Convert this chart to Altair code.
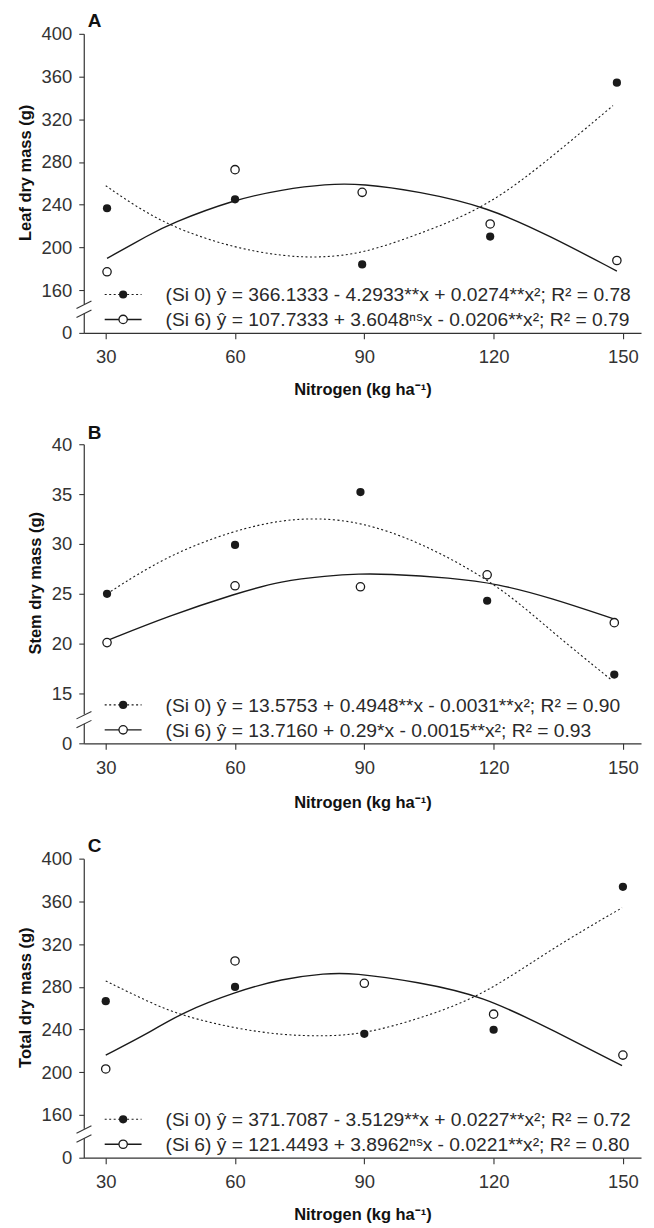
import altair as alt
import pandas as pd

FONT = "Liberation Sans, Arial, sans-serif"
INK = "#1a1a1a"

X_TICKS = [30, 60, 90, 120, 150]
X_TITLE = "Nitrogen (kg ha⁻¹)"

# ---------------- Panel A: leaf dry mass ----------------
A_x = [30.3, 60, 89.5, 119.2, 148.6]
A_si0 = [236.7, 245.1, 184.1, 210.2, 354.3]
A_si6 = [177.2, 272.8, 251.6, 222.0, 187.8]
A_fit0_x = [30, 38.6, 47.8, 60, 70.9, 79.4, 89.5, 102.5, 118.6, 133.2, 147.7]
A_fit0_y = [257.8, 233.9, 215.2, 199.6, 191.9, 190.3, 194.0, 212.1, 237.9, 283.6, 332.8]
A_fit6_x = [30.3, 40.2, 44.8, 60, 70.9, 81.1, 89.5, 102.5, 118.6, 133.2, 148.6]
A_fit6_y = [189.7, 212.1, 222.0, 245.1, 254.1, 259.4, 259.7, 252.5, 237.9, 210.5, 177.9]
A_yticks = [120, 160, 200, 240, 280, 320, 360, 400]
A_eq0 = "(Si 0) ŷ = 366.1333 - 4.2933**x + 0.0274**x²; R² = 0.78"
A_eq6 = "(Si 6) ŷ = 107.7333 + 3.6048ⁿˢx - 0.0206**x²; R² = 0.79"

# ---------------- Panel B: stem dry mass ----------------
B_x = [30.3, 60, 89.1, 118.5, 148.0]
B_si0 = [25.0, 29.9, 35.2, 24.3, 16.9]
B_si6 = [20.1, 25.8, 25.7, 26.9, 22.1]
B_fit0_x = [30.3, 44, 60, 70.9, 79.4, 89.1, 102.5, 120.9, 133.2, 147.5]
B_fit0_y = [25.0, 28.8, 31.4, 32.4, 32.6, 32.2, 30.3, 26.0, 21.3, 16.3]
B_fit6_x = [30.3, 44.8, 60, 70.9, 81.1, 89.1, 94.8, 110.2, 120.9, 133.2, 147.7]
B_fit6_y = [20.3, 22.8, 25.0, 26.3, 26.8, 27.0, 27.0, 26.6, 26.0, 24.6, 22.5]
B_yticks = [10, 15, 20, 25, 30, 35, 40]
B_eq0 = "(Si 0) ŷ = 13.5753 + 0.4948**x - 0.0031**x²; R² = 0.90"
B_eq6 = "(Si 6) ŷ = 13.7160 + 0.29*x - 0.0015**x²; R² = 0.93"

# ---------------- Panel C: total dry mass ----------------
C_x = [30, 60, 90, 120, 150]
C_si0 = [266.5, 279.9, 236.0, 239.8, 373.6]
C_si6 = [203.1, 304.2, 283.3, 254.4, 216.1]
C_fit0_x = [30, 40.2, 47.8, 60, 70.9, 81.1, 90, 102.5, 117.5, 133.2, 149.8]
C_fit0_y = [285.5, 265.3, 252.8, 241.0, 234.8, 233.6, 236.0, 249.7, 271.5, 315.1, 354.0]
C_fit6_x = [30, 40.2, 47.8, 60, 70.9, 81.1, 87.1, 102.5, 117.5, 133.2, 149.8]
C_fit6_y = [216.1, 237.3, 256.1, 275.2, 287.6, 292.6, 293.2, 284.5, 271.5, 240.4, 206.1]
C_yticks = [120, 160, 200, 240, 280, 320, 360, 400]
C_eq0 = "(Si 0) ŷ = 371.7087 - 3.5129**x + 0.0227**x²; R² = 0.72"
C_eq6 = "(Si 6) ŷ = 121.4493 + 3.8962ⁿˢx - 0.0221**x²; R² = 0.80"

W, H = 559, 300
ONE = pd.DataFrame({"k": [0]})


def panel(letter, ytitle, yticks, px, si0, si6, f0x, f0y, f6x, f6y, eq0, eq6,
          title_offset=-6, xtitle_pad=15):
    lo, hi = yticks[0], yticks[-1]
    xenc = alt.X("N:Q",
                 scale=alt.Scale(domain=[24.9, 154.2], nice=False, zero=False),
                 axis=alt.Axis(values=X_TICKS, title=X_TITLE, labelPadding=9,
                               titlePadding=xtitle_pad))
    yenc = alt.Y("mass:Q",
                 scale=alt.Scale(domain=[lo, hi], nice=False, zero=False),
                 axis=alt.Axis(values=yticks, title=ytitle, tickSize=5, labelPadding=7,
                               labelExpr=f"datum.value == {lo} ? '0' : datum.label",
                               titleY=139))
    d0 = pd.DataFrame({"N": f0x, "mass": f0y})
    d6 = pd.DataFrame({"N": f6x, "mass": f6y})
    p0 = pd.DataFrame({"N": px, "mass": si0})
    p6 = pd.DataFrame({"N": px, "mass": si6})

    line0 = alt.Chart(d0).mark_line(color=INK, strokeWidth=1.1, strokeDash=[2, 2.5],
                                    interpolate="basis").encode(x=xenc, y=yenc)
    line6 = alt.Chart(d6).mark_line(color=INK, strokeWidth=1.4,
                                    interpolate="basis").encode(x=xenc, y=yenc)
    pts0 = alt.Chart(p0).mark_point(shape="circle", filled=True, color=INK, size=68,
                                    opacity=1).encode(x=xenc, y=yenc)
    pts6 = alt.Chart(p6).mark_point(shape="circle", filled=True, fill="white", stroke=INK,
                                    strokeWidth=1.3, size=70, opacity=1).encode(x=xenc, y=yenc)

    # legend (inside the plot, bottom-left)
    r1, r2 = 261.5, 286.5
    leg_l0 = alt.Chart(ONE).mark_rule(color=INK, strokeWidth=1.1, strokeDash=[2, 2.5]).encode(
        x=alt.value(21), x2=alt.value(58), y=alt.value(r1))
    leg_l6 = alt.Chart(ONE).mark_rule(color=INK, strokeWidth=1.4).encode(
        x=alt.value(21), x2=alt.value(58), y=alt.value(r2))
    leg_p0 = alt.Chart(ONE).mark_point(shape="circle", filled=True, color=INK, size=68,
                                       opacity=1).encode(x=alt.value(39.5), y=alt.value(r1))
    leg_p6 = alt.Chart(ONE).mark_point(shape="circle", filled=True, fill="white", stroke=INK,
                                       strokeWidth=1.3, size=70, opacity=1).encode(
        x=alt.value(39.5), y=alt.value(r2))
    leg_t0 = alt.Chart(ONE).mark_text(align="left", baseline="middle", font=FONT, fontSize=19.3,
                                      color="#2a2a2a").encode(
        x=alt.value(82), y=alt.value(r1 + 1), text=alt.value(eq0))
    leg_t6 = alt.Chart(ONE).mark_text(align="left", baseline="middle", font=FONT, fontSize=19.3,
                                      color="#2a2a2a").encode(
        x=alt.value(82), y=alt.value(r2 + 1), text=alt.value(eq6))

    # axis break
    gap = alt.Chart(ONE).mark_rect(color="white").encode(
        x=alt.value(-3), x2=alt.value(3), y=alt.value(271), y2=alt.value(280.5))
    s1 = alt.Chart(ONE).mark_rule(color="#333", strokeWidth=1.1).encode(
        x=alt.value(-7.3), y=alt.value(275.5), x2=alt.value(7.7), y2=alt.value(268))
    s2 = alt.Chart(ONE).mark_rule(color="#333", strokeWidth=1.1).encode(
        x=alt.value(-7.3), y=alt.value(284.5), x2=alt.value(7.7), y2=alt.value(277))

    return alt.layer(line0, line6, pts0, pts6, leg_l0, leg_l6, leg_p0, leg_p6,
                     leg_t0, leg_t6, gap, s1, s2).properties(
        width=W, height=H,
        title=alt.TitleParams(letter, anchor="start", frame="group", font=FONT,
                              fontSize=19, fontWeight="bold", color="#111",
                              offset=title_offset, dx=4))


pa = panel("A", "Leaf dry mass (g)", A_yticks, A_x, A_si0, A_si6,
           A_fit0_x, A_fit0_y, A_fit6_x, A_fit6_y, A_eq0, A_eq6, title_offset=-6.35)
pb = panel("B", "Stem dry mass (g)", B_yticks, B_x, B_si0, B_si6,
           B_fit0_x, B_fit0_y, B_fit6_x, B_fit6_y, B_eq0, B_eq6, title_offset=-7.95,
           xtitle_pad=18)
pc = panel("C", "Total dry mass (g)", C_yticks, C_x, C_si0, C_si6,
           C_fit0_x, C_fit0_y, C_fit6_x, C_fit6_y, C_eq0, C_eq6, title_offset=-6.35)

chart = alt.vconcat(pa, pb, pc, spacing=25.7).properties(
    padding={"left": 9, "top": 2, "right": 5, "bottom": 0}
).configure_view(stroke=None).configure_axis(
    grid=False,
    domainColor="#333", domainWidth=1.2,
    tickColor="#333", tickWidth=1.1, tickSize=6,
    labelFont=FONT, labelFontSize=18.5, labelColor="#333", labelPadding=8,
    titleFont=FONT, titleFontSize=16.5, titleFontWeight="bold", titleColor="#111",
    titlePadding=8,
)

chart.save("out.html", embed_options={"renderer": "svg", "actions": False})
